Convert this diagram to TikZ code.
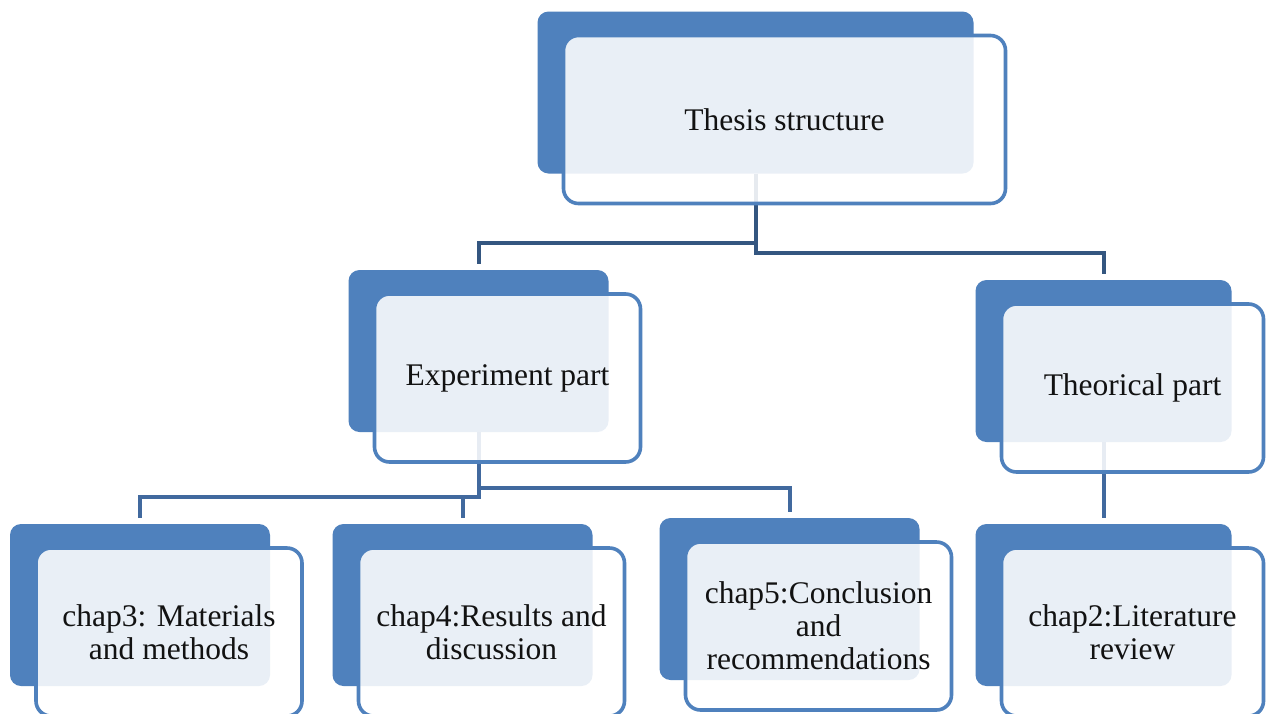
\documentclass[tikz,border=0pt]{standalone}
\usepackage{fontspec}
\setmainfont{Liberation Serif}
\usepackage{tikz}
\usetikzlibrary{positioning}

\definecolor{boxblue}{RGB}{79,129,189}
\definecolor{linkdark}{RGB}{52,86,128}
\definecolor{linkmid}{RGB}{65,105,158}

\tikzset{
  backbox/.style={fill=boxblue, rounded corners=11pt, minimum height=162pt, inner sep=0pt},
  frontbox/.style={draw=boxblue, line width=3.6pt, rounded corners=15pt, fill=white,
    fill opacity=0.88, text opacity=1, minimum height=168pt, inner sep=0pt,
    align=center, text=black!93, font=\fontsize{31.5}{33}\selectfont},
  link/.style={draw=linkdark, line width=4pt, shorten >=6pt},
  sublink/.style={draw=linkmid, line width=4pt, shorten >=6pt}
}

\begin{document}
\begin{tikzpicture}[x=1pt,y=-1pt]
    % Page
    \useasboundingbox (0,0) rectangle (1266,713);
    \fill[white] (0,0) rectangle (1266,713);
    \clip (0,0) rectangle (1266,713);

    % Back panels
    \foreach \nm/\cx/\cy/\w in {root/784.5/119.5/442, exp/507.5/378/266,
        theo/1132.5/388/262, chthree/169/632/266, chfour/491.5/632/266,
        chfive/818.5/626/266, chtwo/1132.5/632/262} {
        \node[backbox, minimum width={(\w-6)*1pt}] (\nm back) at (\cx-29,\cy-27) {};
    }

    % Connectors
    \draw[link] (rootback.south) -- ++(0,69) -| (expback.north);
    \draw[link] (rootback.south) -- ++(0,79) -| (theoback.north);
    \draw[sublink] (expback.south) -- ++(0,65) -| (chthreeback.north);
    \draw[sublink] (expback.south) -- ++(0,65) -| (chfourback.north);
    \draw[sublink] (expback.south) -- ++(0,56) -| (chfiveback.north);
    \draw[sublink] (theoback.south) -- (chtwoback.north);

    % Front panels
    \foreach \nm/\cx/\cy/\w/\txt in {root/784.5/119.5/442/{Thesis structure},
        exp/507.5/378/266/{Experiment part},
        theo/1132.5/388/262/{Theorical part},
        chthree/169/632/266/{chap3: Materials\\and methods},
        chfour/491.5/632/266/{chap4:Results and\\discussion},
        chfive/818.5/626/266/{chap5:Conclusion\\and\\recommendations},
        chtwo/1132.5/632/262/{chap2:Literature\\review}} {
        \node[frontbox, minimum width=\w pt] (\nm) at (\cx,\cy) {\txt};
    }
\end{tikzpicture}
\end{document}
